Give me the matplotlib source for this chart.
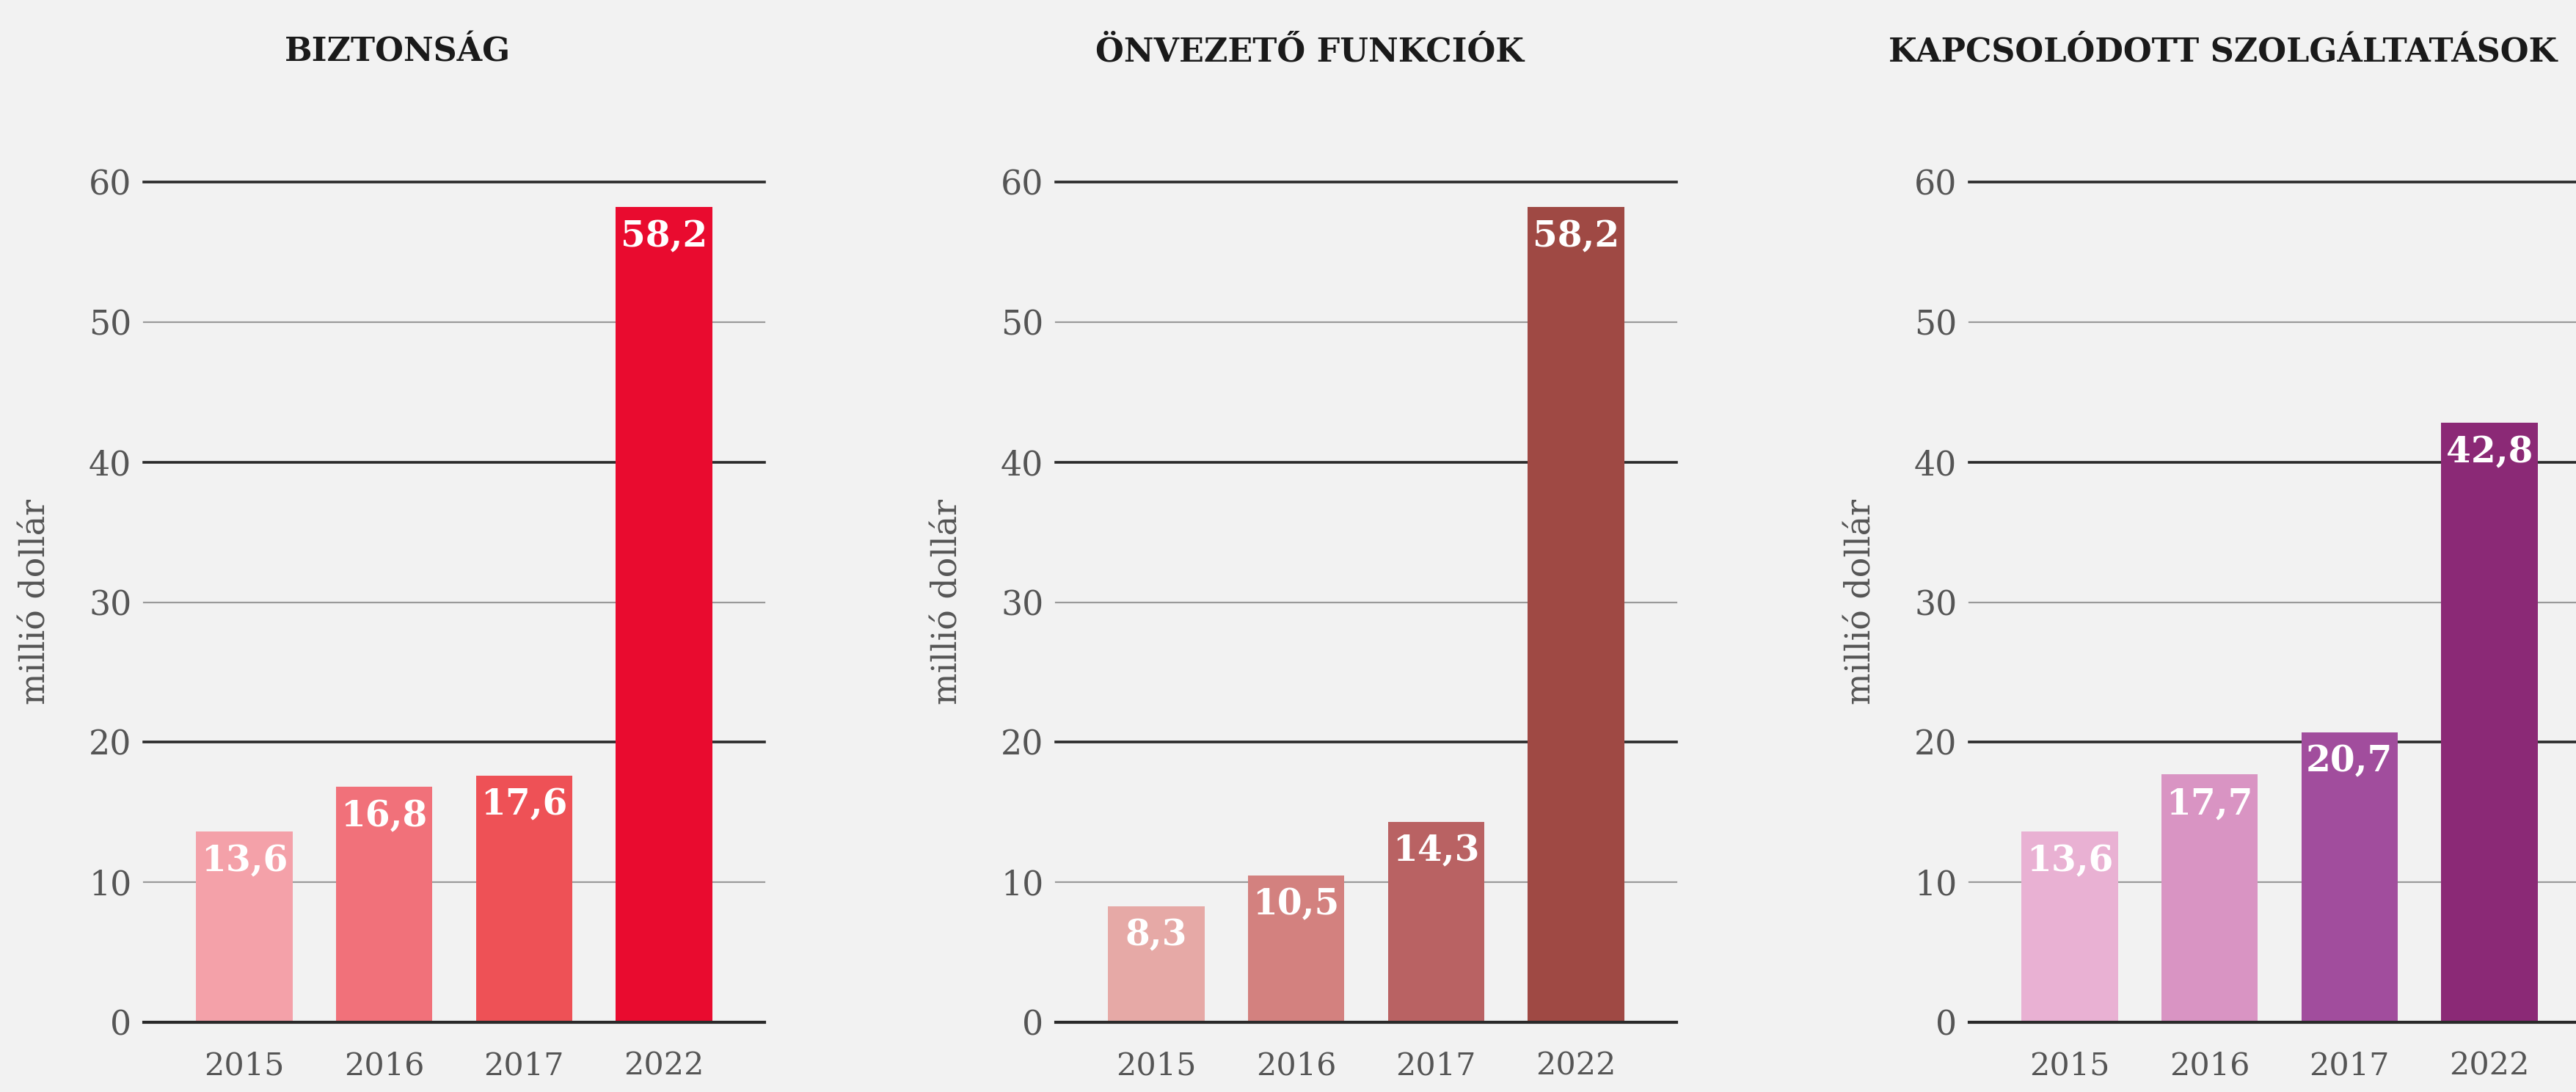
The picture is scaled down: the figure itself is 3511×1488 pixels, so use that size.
import matplotlib
matplotlib.use('Agg')
import matplotlib.pyplot as plt

# Data (million dollars)
years = ['2015', '2016', '2017', '2022']
titles = ['BIZTONSÁG', 'ÖNVEZETŐ FUNKCIÓK', 'KAPCSOLÓDOTT SZOLGÁLTATÁSOK']
biztonsag = [13.6, 16.8, 17.6, 58.2]
onvezeto = [8.3, 10.5, 14.3, 58.2]
kapcsolodott = [13.6, 17.7, 20.7, 42.8]
yticks = [0, 10, 20, 30, 40, 50, 60]
ylabel = 'millió dollár'

series = [biztonsag, onvezeto, kapcsolodott]
palettes = [
    ['#F4A1A9', '#F1717A', '#EE5156', '#E90B2F'],
    ['#E6A9A6', '#D3817F', '#B96263', '#9F4944'],
    ['#E9B1D3', '#D994C3', '#A14D9D', '#8B2976'],
]

bg = '#F2F2F2'
W, H = 3512, 1488
fig = plt.figure(figsize=(W / 100, H / 100), dpi=100, facecolor=bg)

ax_lefts = [196, 1439, 2684]   # pixel x of each plot area
ax_w = 846
y0_px, y60_px = 1393, 248      # pixel y (from top) of values 0 and 60

for k, (vals, cols, title) in enumerate(zip(series, palettes, titles)):
    left = ax_lefts[k] / W
    bottom = (H - y0_px) / H
    height = (y0_px - y60_px) / H
    ax = fig.add_axes([left, bottom, ax_w / W, height])
    ax.set_facecolor(bg)
    ax.set_xlim(-0.72, 3.72)
    ax.set_ylim(0, 60)

    # gridlines: even values dark, odd values light grey
    for t in yticks:
        if t % 20 == 0:
            ax.axhline(t, color='#2a2a2a', lw=2.6, zorder=1, clip_on=False)
        else:
            ax.axhline(t, color='#9a9a9a', lw=1.6, zorder=1, clip_on=False)

    x = range(len(years))
    bars = ax.bar(x, vals, width=0.69, color=cols, zorder=2)
    ax.axhline(0, color='#2a2a2a', lw=3, zorder=3, clip_on=False)

    for b, v in zip(bars, vals):
        ax.annotate(f'{v:.1f}'.replace('.', ','), (b.get_x() + b.get_width() / 2, v),
                    xytext=(0, -12), textcoords='offset points', ha='center', va='top',
                    color='white', fontsize=35, fontweight='bold', family='DejaVu Serif',
                    zorder=4)

    for s in ax.spines.values():
        s.set_visible(False)
    ax.set_xticks(list(x))
    ax.set_xticklabels(years)
    ax.set_yticks(yticks)
    ax.tick_params(axis='both', length=0, labelcolor='#555555')
    ax.tick_params(axis='x', pad=28, labelsize=31)
    ax.tick_params(axis='y', pad=12, labelsize=33)
    for lab in ax.get_xticklabels() + ax.get_yticklabels():
        lab.set_family('DejaVu Serif')

    ax.set_ylabel(ylabel, fontsize=33, color='#555555', family='DejaVu Serif', va='center')
    ax.yaxis.set_label_coords(-147 / ax_w, 0.5)

    cx = (ax_lefts[k] + ax_w / 2 - 77) / W
    fig.text(cx, (H - 83) / H, title, ha='center', va='baseline', fontsize=32,
             fontweight='bold', family='DejaVu Serif', color='#1a1a1a')

fig.savefig('out.png', dpi=100, facecolor=bg)
